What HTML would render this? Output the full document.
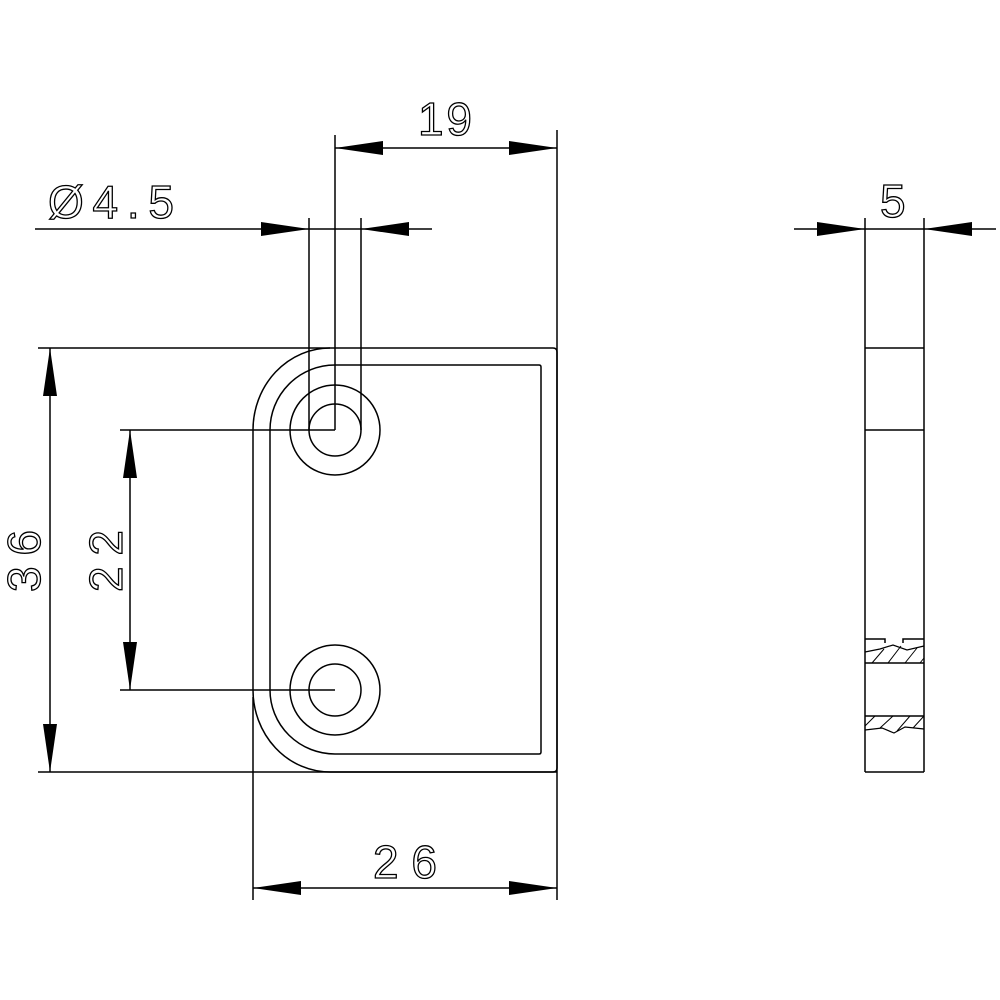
<!DOCTYPE html>
<html><head><meta charset="utf-8"><style>
html,body{margin:0;padding:0;background:#fff}
svg{display:block}
text{font-family:"Liberation Sans",sans-serif;font-size:46px;fill:none;stroke:#000;stroke-width:1.3}
</style></head><body>
<svg width="1000" height="1000" viewBox="0 0 1000 1000" xmlns="http://www.w3.org/2000/svg">
<g fill="none" stroke="#000" stroke-width="1.5">
<!-- outer outline -->
<path d="M330 348 H553 Q557 348 557 352 V768 Q557 772 553 772 H330 A77 82 0 0 1 253 690 V430 A77 82 0 0 1 330 348"/>
<!-- inner outline -->
<path d="M335 365 H539 Q541 365 541 367 V752 Q541 754 539 754 H335 A65 64 0 0 1 270 690 V430 A65 65 0 0 1 335 365"/>
<!-- holes -->
<circle cx="335" cy="430" r="26"/><circle cx="335" cy="430" r="45"/>
<circle cx="335" cy="690" r="26"/><circle cx="335" cy="690" r="45"/>
<!-- extension lines -->
<line x1="309" y1="218" x2="309" y2="430"/>
<line x1="361" y1="218" x2="361" y2="430"/>
<line x1="335" y1="135" x2="335" y2="430"/>
<line x1="557" y1="130" x2="557" y2="900"/>
<line x1="253" y1="697" x2="253" y2="900"/>
<line x1="120" y1="430" x2="335" y2="430"/>
<line x1="120" y1="690" x2="335" y2="690"/>
<line x1="38" y1="348" x2="330" y2="348"/>
<line x1="38" y1="772" x2="557" y2="772"/>
<!-- dim lines -->
<line x1="335" y1="148" x2="557" y2="148"/>
<line x1="35" y1="229" x2="432" y2="229"/>
<line x1="253" y1="888" x2="557" y2="888"/>
<line x1="50" y1="348" x2="50" y2="772"/>
<line x1="130" y1="430" x2="130" y2="690"/>
<!-- side view -->
<line x1="865" y1="218" x2="865" y2="772"/>
<line x1="924" y1="218" x2="924" y2="772"/>
<line x1="865" y1="772" x2="924" y2="772"/>
<line x1="865" y1="348" x2="924" y2="348"/>
<line x1="865" y1="430" x2="924" y2="430"/>
<line x1="794" y1="229" x2="996" y2="229"/>
<path d="M865 639 H885 V643 M903 643 V639 H924"/>
<line x1="865" y1="663" x2="924" y2="663"/>
<line x1="865" y1="716" x2="924" y2="716"/>
<path d="M865 652 L880 649 L893 645 L907 650 L924 646" stroke-width="1.2"/>
<path d="M865 730 L882 728 L894 733 L905 727 L924 729" stroke-width="1.2"/>
<g stroke-width="1">
<path d="M872 663 L884 649 M888 663 L901 646 M905 663 L917 648 M920 663 L924 658"/>
<path d="M865 726 L875 716 M880 728 L893 716 M897 731 L910 716 M913 728 L924 716"/>
</g>
</g>
<!-- arrowheads -->
<g fill="#000">
<path d="M335 148 L383 141 L383 155Z"/>
<path d="M557 148 L509 141 L509 155Z"/>
<path d="M309 229 L261 222 L261 236Z"/>
<path d="M361 229 L409 222 L409 236Z"/>
<path d="M253 888 L301 881 L301 895Z"/>
<path d="M557 888 L509 881 L509 895Z"/>
<path d="M50 348 L43 396 L57 396Z"/>
<path d="M50 772 L43 724 L57 724Z"/>
<path d="M130 430 L123 478 L137 478Z"/>
<path d="M130 690 L123 642 L137 642Z"/>
<path d="M865 229 L817 222 L817 236Z"/>
<path d="M924 229 L972 222 L972 236Z"/>
</g>
<text x="418" y="135" textLength="54">19</text>
<text x="48" y="218" textLength="126">Ø4.5</text>
<text x="373" y="878" textLength="64">26</text>
<text x="880" y="217" textLength="28">5</text>
<text transform="translate(40,592) rotate(-90)" textLength="62">36</text>
<text transform="translate(122,592) rotate(-90)" textLength="62">22</text>
</svg>
</body></html>
